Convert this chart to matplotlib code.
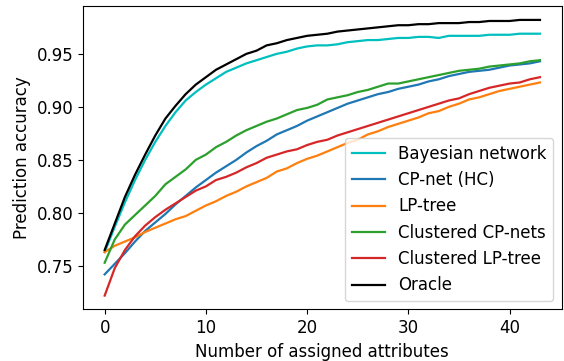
import matplotlib
matplotlib.use('Agg')
import matplotlib.pyplot as plt
import numpy as np

# number of assigned attributes
n_assigned = np.arange(44)

bayes = [0.763, 0.787, 0.810, 0.831, 0.850, 0.867, 0.882, 0.895, 0.906, 0.914,
         0.921, 0.927, 0.933, 0.937, 0.941, 0.944, 0.947, 0.950, 0.952, 0.955,
         0.957, 0.958, 0.958, 0.959, 0.961, 0.962, 0.963, 0.963, 0.964, 0.965,
         0.965, 0.966, 0.966, 0.965, 0.967, 0.967, 0.967, 0.967, 0.968, 0.968,
         0.968, 0.969, 0.969, 0.969]
cpnet = [0.742, 0.752, 0.762, 0.773, 0.783, 0.791, 0.799, 0.808, 0.816, 0.824,
         0.831, 0.838, 0.844, 0.850, 0.857, 0.863, 0.868, 0.874, 0.878, 0.882,
         0.887, 0.891, 0.895, 0.899, 0.903, 0.906, 0.909, 0.912, 0.914, 0.917,
         0.919, 0.921, 0.924, 0.926, 0.929, 0.931, 0.933, 0.934, 0.935, 0.937,
         0.939, 0.940, 0.941, 0.943]
lptree = [0.763, 0.769, 0.773, 0.777, 0.782, 0.786, 0.790, 0.794, 0.797, 0.802,
          0.807, 0.811, 0.816, 0.820, 0.825, 0.829, 0.833, 0.839, 0.842, 0.847,
          0.851, 0.854, 0.858, 0.862, 0.866, 0.869, 0.874, 0.877, 0.881, 0.884,
          0.887, 0.890, 0.894, 0.896, 0.900, 0.903, 0.907, 0.909, 0.912, 0.915,
          0.917, 0.919, 0.921, 0.923]
clust_cp = [0.753, 0.775, 0.789, 0.798, 0.807, 0.816, 0.827, 0.834, 0.841, 0.850,
            0.855, 0.862, 0.867, 0.873, 0.878, 0.882, 0.886, 0.889, 0.893, 0.897,
            0.899, 0.902, 0.907, 0.909, 0.911, 0.914, 0.916, 0.919, 0.922, 0.922,
            0.924, 0.926, 0.928, 0.930, 0.932, 0.934, 0.935, 0.936, 0.938, 0.939,
            0.940, 0.941, 0.943, 0.944]
clust_lp = [0.722, 0.748, 0.765, 0.778, 0.788, 0.796, 0.803, 0.809, 0.815, 0.821,
            0.825, 0.831, 0.834, 0.838, 0.843, 0.847, 0.852, 0.855, 0.858, 0.860,
            0.864, 0.867, 0.869, 0.873, 0.876, 0.879, 0.882, 0.885, 0.888, 0.891,
            0.894, 0.897, 0.900, 0.903, 0.906, 0.908, 0.912, 0.915, 0.918, 0.920,
            0.922, 0.923, 0.926, 0.928]
oracle = [0.765, 0.790, 0.815, 0.836, 0.855, 0.873, 0.889, 0.901, 0.912, 0.921,
          0.928, 0.935, 0.940, 0.945, 0.950, 0.953, 0.958, 0.960, 0.963, 0.965,
          0.967, 0.968, 0.969, 0.971, 0.972, 0.973, 0.974, 0.975, 0.976, 0.977,
          0.977, 0.978, 0.978, 0.979, 0.979, 0.979, 0.980, 0.980, 0.981, 0.981,
          0.981, 0.982, 0.982, 0.982]

fig, ax = plt.subplots(figsize=(5.64, 3.61), dpi=100)
fig.subplots_adjust(left=0.147, right=0.996, top=0.983, bottom=0.143)

ax.plot(n_assigned, bayes, color='c', lw=1.6, label='Bayesian network')
ax.plot(n_assigned, cpnet, color='tab:blue', lw=1.6, label='CP-net (HC)')
ax.plot(n_assigned, lptree, color='tab:orange', lw=1.6, label='LP-tree')
ax.plot(n_assigned, clust_cp, color='tab:green', lw=1.6, label='Clustered CP-nets')
ax.plot(n_assigned, clust_lp, color='tab:red', lw=1.6, label='Clustered LP-tree')
ax.plot(n_assigned, oracle, color='black', lw=1.6, label='Oracle')

ax.tick_params(labelsize=12)
ax.set_xlabel('Number of assigned attributes', fontsize=12)
ax.set_ylabel('Prediction accuracy', fontsize=12)
ax.legend(loc='lower right', fontsize=12)

fig.savefig('out.png')
